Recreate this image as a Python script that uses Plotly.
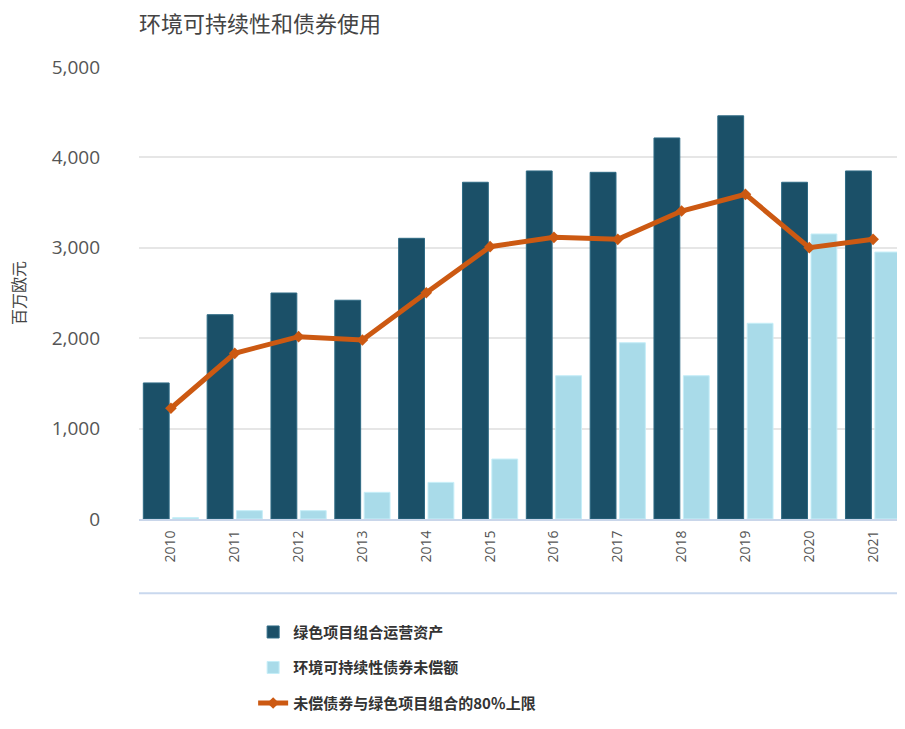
import plotly.graph_objects as go

years = ["2010", "2011", "2012", "2013", "2014", "2015",
         "2016", "2017", "2018", "2019", "2020", "2021"]
green_assets = [1505, 2260, 2500, 2420, 3105, 3725, 3850, 3835, 4215, 4460, 3725, 3850]
bonds_outstanding = [15, 92, 92, 295, 405, 663, 1585, 1950, 1585, 2165, 3153, 2953]
cap_80 = [1225, 1833, 2017, 1980, 2503, 3012, 3116, 3094, 3407, 3592, 3001, 3094]

DARK = "#1b5068"
LIGHT = "#a9dbe9"
ORANGE = "#cc5912"
FONT = "Open Sans, Noto Sans CJK SC, sans-serif"

# page body has an 8px margin, so the figure is drawn 8px smaller
W, H = 897, 721

fig = go.Figure()
fig.add_trace(go.Bar(x=years, y=green_assets, name="绿色项目组合运营资产",
                     marker=dict(color=DARK, line=dict(color="#2e6a84", width=1)),
                     legendgroup="a"))
fig.add_trace(go.Bar(x=years, y=bonds_outstanding, name="环境可持续性债券未偿额",
                     marker=dict(color=LIGHT, line=dict(color="#c6eef8", width=1)),
                     legendgroup="b"))
fig.add_trace(go.Scatter(x=years, y=cap_80, name="未偿债券与绿色项目组合的80％上限",
                         mode="lines+markers",
                         line=dict(color=ORANGE, width=5),
                         marker=dict(symbol="diamond", size=9, color=ORANGE),
                         legendgroup="c"))

# separator line under the year labels
fig.add_shape(type="line", xref="paper", yref="paper", x0=0, x1=1, y0=-0.164, y1=-0.164,
              line=dict(color="#c9d8ee", width=2))

fig.update_layout(
    width=W, height=H,
    margin=dict(l=131, r=0, t=59, b=210),
    paper_bgcolor="white", plot_bgcolor="white",
    font=dict(family=FONT, color="#444"),
    title=dict(text="环境可持续性和债券使用", x=131 / W, xanchor="left",
               y=1 - 16 / H, yanchor="middle",
               font=dict(size=22, color="#444")),
    barmode="group", bargap=0.08, bargroupgap=0.12,
    legend=dict(x=0.149, y=-0.214, xanchor="left", yanchor="top",
                font=dict(size=15, color="#333", family="Noto Sans CJK SC", weight="bold"),
                tracegroupgap=13, traceorder="grouped"),
    showlegend=True,
)
fig.update_xaxes(range=[-0.5, len(years) - 0.5], autorange=False,
                 tickangle=-90, tickfont=dict(size=14, color="#555"),
                 showline=True, linecolor="#c9d6ea", linewidth=2,
                 ticklabelstandoff=4, showgrid=False, automargin=False)
fig.update_yaxes(range=[0, 5000], tickvals=[0, 1000, 2000, 3000, 4000, 5000],
                 tickformat=",d", tickfont=dict(size=19, color="#555"),
                 gridcolor="#e6e6e6", gridwidth=2, zeroline=False,
                 ticklabelstandoff=38, automargin=False,
                 title=dict(text="百万欧元", font=dict(size=16, color="#444"), standoff=30))

fig.write_html("out.html")
